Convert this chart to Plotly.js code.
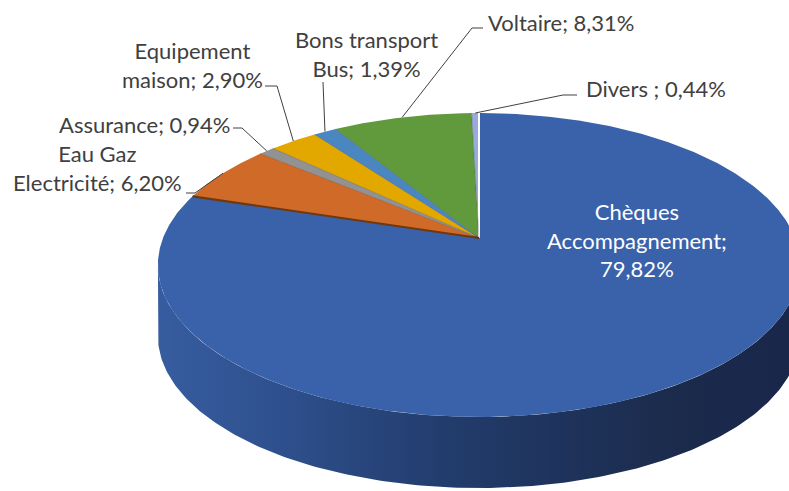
<!DOCTYPE html>
<html><head><meta charset="utf-8">
<script src="https://cdn.plot.ly/plotly-3.0.1.min.js"></script>
<style>html,body{margin:0;padding:0;background:#fff;}#chart{width:789px;height:491px;}</style>
</head><body><div id="chart"></div>
<script>
// ---- data (clockwise from 12 o'clock) ----
const categories = ["Chèques<br>Accompagnement", "Eau Gaz<br>Electricité", "Assurance", "Equipement<br>maison", "Bons transport<br>Bus", "Voltaire", "Divers "];
const values = [79.82, 6.20, 0.94, 2.90, 1.39, 8.31, 0.44];
const sliceColors = ["#3A62AA", "#CF6A28", "#929292", "#E2A800", "#4A86C0", "#61993D", "#97ACDB"];

// ---- styles / layout config ----
const geo = {cx: 479, cy: 238, A: 316, B: 147.2, k: 0.1776, depth: 71};
const labelCfg = [
  {x: 637, y: 240, xanchor: 'center', color: '#FFFFFF', sep: ';<br>', leader: null},
  {x: 97, y: 168, xanchor: 'center', color: '#404040', sep: '; ', leader: [[186, 193], [195, 193]]},
  {x: 57, y: 124, xanchor: 'left', color: '#404040', sep: '; ', leader: [[233, 128], [242, 128]]},
  {x: 192, y: 64.5, xanchor: 'center', color: '#404040', sep: '; ', leader: [[265, 86], [277, 86]]},
  {x: 366, y: 54, xanchor: 'center', color: '#404040', sep: '; ', leader: [[323, 82]]},
  {x: 486, y: 22, xanchor: 'left', color: '#404040', sep: '; ', leader: [[483, 28], [472, 28]]},
  {x: 584, y: 88, xanchor: 'left', color: '#404040', sep: '; ', leader: [[577, 95], [563, 95]]}
];
const FONT = "Lato, 'Open Sans', sans-serif";

function proj(phiDeg) {
  const p = phiDeg * Math.PI / 180, u = Math.cos(p), v = Math.sin(p), w = 1 + geo.k * v;
  return [geo.cx + geo.A * u / w, geo.cy - geo.B * v / w];
}
function arc(a0, a1, n) {
  const pts = [];
  for (let i = 0; i <= n; i++) pts.push(proj(a0 + (a1 - a0) * i / n));
  return pts;
}
const total = values.reduce((a, b) => a + b, 0);
let cum = 0;
const slices = values.map(v => {
  const a0 = 90 - 360 * cum / total; cum += v;
  const a1 = 90 - 360 * cum / total;
  return {a0, a1, mid: (a0 + a1) / 2};
});

const traces = [];
// side walls (front, visible part)
const phiR = -Math.asin(geo.k) * 180 / Math.PI, phiL = -180 - phiR;
slices.forEach((s, i) => {
  const hi = Math.min(s.a0, phiR), lo = Math.max(s.a1, phiL);
  if (hi <= lo) return;
  const top = arc(hi, lo, 200);
  const bot = top.slice().reverse().map(p => [p[0], p[1] + geo.depth]);
  const pts = top.concat(bot);
  traces.push({
    type: 'scatter', mode: 'lines', x: pts.map(p => p[0]), y: pts.map(p => p[1]),
    fill: 'toself', line: {width: 0, color: 'rgba(0,0,0,0)'},
    fillgradient: {type: 'horizontal', colorscale: i === 0 ?
      [[0, '#375DA0'], [0.2, '#2E4F8C'], [0.45, '#223C6C'], [0.8, '#1B2B4C'], [1, '#18264A']] :
      [[0, sliceColors[i]], [1, sliceColors[i]]]},
    hoverinfo: 'skip'
  });
});
// top faces
slices.forEach((s, i) => {
  const pts = [[geo.cx, geo.cy]].concat(arc(s.a0, s.a1, Math.max(8, Math.ceil((s.a0 - s.a1) * 2)))).concat([[geo.cx, geo.cy]]);
  traces.push({
    type: 'scatter', mode: 'lines', x: pts.map(p => p[0]), y: pts.map(p => p[1]),
    fill: 'toself', fillcolor: sliceColors[i], line: {width: 0, color: 'rgba(0,0,0,0)'},
    hoverinfo: 'skip'
  });
});
// slice separators
slices.forEach((s, i) => {
  const e = proj(s.a0);
  let color = 'rgba(40,40,40,0.35)', width = 0.8;
  if (i === 0) { color = '#FFFFFF'; width = 2; }
  if (i === 1) { color = '#6E3812'; width = 2.2; }
  traces.push({type: 'scatter', mode: 'lines', x: [geo.cx, e[0]], y: [geo.cy, e[1]],
    line: {color, width}, hoverinfo: 'skip'});
});
// leader lines
slices.forEach((s, i) => {
  const c = labelCfg[i];
  if (!c.leader) return;
  const rim = proj(s.mid);
  const pts = c.leader.concat([rim]);
  traces.push({type: 'scatter', mode: 'lines', x: pts.map(p => p[0]), y: pts.map(p => p[1]),
    line: {color: '#404040', width: 1}, hoverinfo: 'skip'});
});

const fmt = v => v.toFixed(2).replace('.', ',') + '%';
const annotations = categories.map((cat, i) => ({
  x: labelCfg[i].x, y: labelCfg[i].y, xref: 'x', yref: 'y',
  xanchor: labelCfg[i].xanchor, yanchor: 'middle', align: 'center',
  text: cat + labelCfg[i].sep + fmt(values[i]), showarrow: false,
  font: {family: FONT, size: 22, color: labelCfg[i].color}
}));

const layout = {
  width: 789, height: 491, margin: {l: 0, r: 0, t: 0, b: 0},
  paper_bgcolor: '#FFFFFF', plot_bgcolor: '#FFFFFF', showlegend: false, hovermode: false,
  xaxis: {range: [0, 789], visible: false, fixedrange: true},
  yaxis: {range: [491, 0], visible: false, fixedrange: true},
  annotations
};
Plotly.newPlot('chart', traces, layout, {staticPlot: true, displayModeBar: false});
</script>
</body></html>
